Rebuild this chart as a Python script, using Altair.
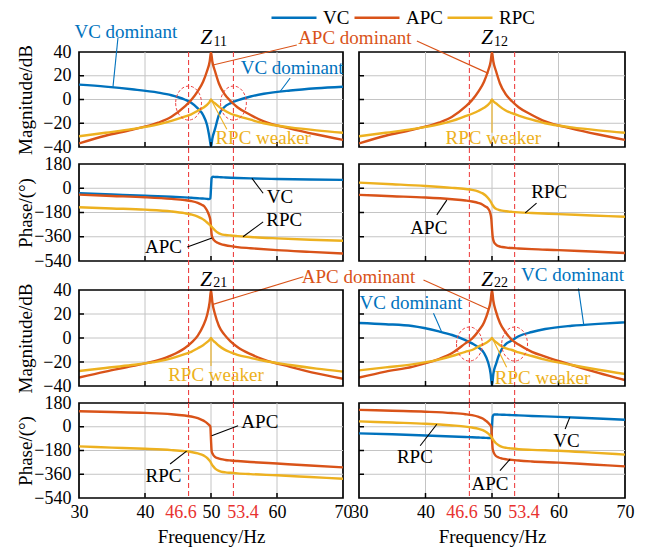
import altair as alt
import pandas as pd

FONT = "Liberation Serif"
SERIES = ["VC", "APC", "RPC"]
COLORS = ["#0072BD", "#D95319", "#EDB120"]
BLUE, ORANGE, YELLOW, BLACK = COLORS[0], COLORS[1], COLORS[2], "#000000"
RED = "#EE4444"
GRID = "#c4c4c4"

X_LABELS = [30, 40, 46.6, 50, 53.4, 60, 70]
MARK_FREQS = [46.6, 53.4]
MAG_TICKS = [-40, -20, 0, 20, 40]
PH_TICKS = [-540, -360, -180, 0, 180]
INNER_X = [40, 50, 60]
INNER_MAG = [-20, 0, 20]
INNER_PH = [-360, -180, 0]

# ---------------- magnitude data (dB) ----------------
FREQ_MAG = [30, 34, 38, 42, 44, 46, 47, 48, 48.8, 49.4, 49.8, 50, 50.2, 50.6, 51.2, 52, 53, 54, 56, 58, 62, 66, 70]
Z11_VC = [12.5, 10.8, 8.6, 5.8, 3.6, 0, -2.8, -7.5, -13, -21.5, -33, -40, -33, -25, -13, -6.5, -3, -0.8, 2.5, 4.8, 7.6, 9.5, 10.8]
Z11_APC = [-37, -30.5, -25.5, -19.5, -14.5, -6, -0.5, 7, 15, 24, 32, 40, 32, 24, 13.5, 5, -1.5, -6.5, -13, -18.5, -24.5, -29.5, -34]
Z11_RPC = [-31, -28, -25, -21, -18, -14.5, -12.5, -9.5, -7, -4.5, -2, 0, -1.5, -3.2, -6, -9, -12, -13.8, -17, -20, -23.5, -26, -28]
Z12_APC = [-37, -30.5, -25.5, -19.5, -14.5, -6, -0.5, 7, 15, 24, 32, 40, 32, 24, 13.5, 5, -1.5, -6.5, -13, -18.5, -24.5, -29.5, -34]
Z12_RPC = [-31, -28, -25, -21, -18, -14, -12, -9.5, -7, -4.5, -2, 0, -1.5, -3.2, -6, -9, -11.5, -13.5, -17, -20, -23.5, -26, -28]
Z21_APC = [-33, -28, -23.5, -18.5, -14.5, -8.5, -4, 2, 10, 19, 30, 40, 30, 20, 10, 3, -3, -7.5, -13.5, -18, -24, -29.5, -34]
Z21_RPC = [-27.5, -25, -22.5, -19.5, -17, -13.5, -11.5, -8.5, -6, -3.5, -1.5, 0, -1.5, -3.5, -6.5, -9.5, -12, -14, -16.5, -19, -22.5, -25.5, -28]
Z22_VC = [12.5, 11.5, 10, 5.5, 2.5, -1.8, -4.5, -8, -12.5, -20, -30, -40, -30, -21.7, -12, -5.5, -2, 1.5, 5, 7.5, 10.2, 11.8, 13]
Z22_APC = [-33, -28, -24, -17.5, -12.5, -4.5, -0.5, 6, 13, 22, 31, 40, 31, 22, 12.5, 5, -1.5, -5.5, -11.5, -15.5, -22.5, -29, -35]
Z22_RPC = [-27, -24.5, -22, -18, -15, -11.5, -10, -7, -5, -3, -1.2, 0, -1.5, -3.5, -6, -8.5, -10, -12, -15, -18, -22.5, -26.5, -30]

# ---------------- phase data (deg) ----------------
FREQ_PH = [30, 35, 40, 44, 46, 47, 48, 48.6, 49, 49.4, 49.7, 49.9, 50, 50.1, 50.3, 50.6, 51, 51.5, 52.2, 53, 54, 56, 60, 65, 70]
Z11_VC_PH = [-37, -46, -55, -63, -68, -71, -74, -76, -77, -79, -81, -75, 0, 75, 85, 84, 83, 82, 80, 78, 76, 73, 69, 65, 62]
Z11_APC_PH = [-47, -57, -67, -79, -88, -95, -108, -122, -135, -165, -200, -235, -290, -345, -375, -392, -405, -415, -423, -430, -437, -445, -459, -472, -484]
Z11_RPC_PH = [-141, -150, -159, -172, -185, -195, -210, -225, -238, -254, -267, -275, -280, -286, -297, -312, -328, -340, -347, -351, -355, -362, -372, -382, -390]
Z12_APC_PH = [-49, -59, -69, -82, -91, -98, -110, -122, -135, -150, -178, -230, -300, -360, -400, -418, -430, -436, -441, -444, -447, -452, -459, -470, -481]
Z12_RPC_PH = [42, 30, 17, 3, -6, -12, -25, -38, -52, -72, -92, -108, -118, -126, -140, -152, -160, -166, -171, -175, -179, -184, -192, -202, -212]
Z21_APC_PH = [118, 112, 105, 95, 85, 78, 65, 52, 42, 28, 14, 2, -100, -185, -210, -228, -238, -246, -252, -256, -260, -267, -279, -294, -308]
Z21_RPC_PH = [-149, -158, -167, -177, -185, -191, -202, -212, -221, -236, -252, -265, -274, -283, -298, -315, -330, -340, -346, -349, -353, -359, -368, -381, -394]
Z22_VC_PH = [-50, -57, -66, -74, -78, -80, -82, -83, -84, -85, -86, -78, 0, 78, 93, 93, 92, 91, 90, 88, 86, 82, 75, 64, 53]
Z22_APC_PH = [128, 121, 114, 104, 95, 88, 75, 62, 48, 32, 15, -3, -90, -168, -200, -222, -233, -241, -247, -251, -256, -263, -272, -286, -300]
Z22_RPC_PH = [41, 32, 23, 10, 1, -6, -16, -26, -36, -50, -65, -77, -85, -93, -108, -125, -140, -152, -160, -165, -170, -175, -182, -196, -211]

# panel geometry (plot areas); row 3 gets an empty strip on top for the wider gap
W = [264, 266]
H = [95, 97, 96, 95]
TOP_STRIP = [0, 0, 12, 0]
ROW_SPACING = 17

ELLIPSE = "M -0.76 0 A 0.76 1 0 1 0 0.76 0 A 0.76 1 0 1 0 -0.76 0 Z"

LEGEND = alt.Legend(
    orient="none", legendX=191, legendY=-44, direction="horizontal", title=None,
    symbolType="stroke", symbolSize=2025, symbolStrokeWidth=2.5, clipHeight=19,
    labelFont=FONT, labelFontSize=19, labelOffset=5, columnPadding=3,
)


def panel(row, col, freq, series, texts, leaders, title, ellipses=()):
    mag = row in (0, 2)
    strip = TOP_STRIP[row]
    w = W[col]
    h = H[row] + strip
    lo, hi = (-40, 40) if mag else (-540, 180)
    top_val = hi + strip * (hi - lo) / H[row]
    xs = alt.Scale(domain=[30, 70], nice=False, zero=False)
    ys = alt.Scale(domain=[lo, top_val], nice=False, zero=False)
    yvals = MAG_TICKS if mag else PH_TICKS
    inner_y = INNER_MAG if mag else INNER_PH

    if row == 3:
        xaxis = alt.Axis(values=X_LABELS, format=".1~f", title="Frequency/Hz",
                         labelFlush=False, labelOverlap=False, labelPadding=5,
                         labelColor={"condition": {"test": "datum.value == 46.6 || datum.value == 53.4",
                                                   "value": "#E8322F"}, "value": "black"},
                         labelOffset={"condition": [{"test": "datum.value == 46.6", "value": -8},
                                                    {"test": "datum.value == 53.4", "value": 9}],
                                      "value": 0},
                         titlePadding=6)
    else:
        xaxis = alt.Axis(values=X_LABELS, labels=False, title=None)
    if col == 0:
        yaxis = alt.Axis(values=yvals, format="d", labelPadding=8,
                         title="Magnitude/dB" if mag else "Phase/(°)",
                         titleX=-54, titleY=strip + H[row] / 2, titleBaseline="middle", titleAngle=270)
    else:
        yaxis = alt.Axis(values=yvals, labels=False, title=None)

    def X(field):
        return alt.X(field, type="quantitative", scale=xs, axis=xaxis)

    def Y(field):
        return alt.Y(field, type="quantitative", scale=ys, axis=yaxis)

    # grid lines
    grid_v = alt.Chart(pd.DataFrame({"f": INNER_X})).mark_rule(stroke=GRID, strokeWidth=1).encode(
        x=X("f"), y=alt.value(strip), y2=alt.value(h))
    grid_h = alt.Chart(pd.DataFrame({"v": inner_y})).mark_rule(stroke=GRID, strokeWidth=1).encode(
        y=Y("v"), x=alt.value(0), x2=alt.value(w))

    gap_below = ROW_SPACING if row < 3 else 0
    dash = alt.Chart(pd.DataFrame({"f": MARK_FREQS})).mark_rule(
        stroke=RED, strokeDash=[5, 3], strokeWidth=1.1, clip=False
    ).encode(x=X("f"), y=alt.value(0), y2=alt.value(h + gap_below))

    recs = [{"f": f, "v": v, "s": name} for name, vals in series for f, v in zip(freq, vals)]
    lines = alt.Chart(pd.DataFrame(recs)).mark_line(
        clip=True, strokeWidth=2.4, interpolate="monotone"
    ).encode(
        x=X("f"), y=Y("v"),
        color=alt.Color("s:N", scale=alt.Scale(domain=SERIES, range=COLORS), legend=LEGEND),
    )

    tick_x = alt.Chart(pd.DataFrame({"f": INNER_X})).mark_rule(stroke="black", strokeWidth=1.5).encode(
        x=X("f"), y=alt.value(h), y2=alt.value(h - 5))
    tick_y = alt.Chart(pd.DataFrame({"v": inner_y})).mark_rule(stroke="black", strokeWidth=1.5).encode(
        y=Y("v"), x=alt.value(0), x2=alt.value(5))

    lead = alt.Chart(pd.DataFrame(leaders, columns=["f", "v", "f2", "v2", "c"])).mark_rule(
        strokeWidth=1.1, clip=False
    ).encode(
        x=X("f"), y=Y("v"), x2="f2:Q", y2="v2:Q", stroke=alt.Stroke("c:N", scale=None),
    )
    txt = alt.Chart(pd.DataFrame(texts, columns=["f", "v", "t", "c"])).mark_text(
        font=FONT, fontSize=19, clip=False
    ).encode(
        x=X("f"), y=Y("v"), text="t:N", fill=alt.Fill("c:N", scale=None),
    )
    layers = [grid_v, grid_h, dash, lines, tick_x, tick_y, lead, txt]

    if title:
        zx, zy, sub, sx, sy = title
        layers.append(alt.Chart(pd.DataFrame({"f": [zx], "v": [zy], "t": ["Z"]})).mark_text(
            font=FONT, fontSize=21, fontStyle="italic", clip=False, color="black"
        ).encode(x=X("f"), y=Y("v"), text="t:N"))
        layers.append(alt.Chart(pd.DataFrame({"f": [sx], "v": [sy], "t": [sub]})).mark_text(
            font=FONT, fontSize=14, clip=False, color="black"
        ).encode(x=X("f"), y=Y("v"), text="t:N"))

    if ellipses:
        layers.append(alt.Chart(pd.DataFrame(ellipses, columns=["f", "v"])).mark_point(
            shape=ELLIPSE, size=1156, filled=False, stroke=RED, strokeDash=[3, 2],
            strokeWidth=1, opacity=1, clip=False
        ).encode(x=X("f"), y=Y("v")))

    props = dict(width=w, height=h)
    if strip:
        layers.append(alt.Chart(pd.DataFrame({"a": [0]})).mark_rect(
            fillOpacity=0, stroke="black", strokeWidth=1.7
        ).encode(x=alt.value(0), x2=alt.value(w), y=alt.value(strip), y2=alt.value(h)))
        props["view"] = alt.ViewBackground(stroke="transparent")
    return alt.layer(*layers).properties(**props)


p11m = panel(0, 0, FREQ_MAG, [("VC", Z11_VC), ("APC", Z11_APC), ("RPC", Z11_RPC)],
             [(37.1, 56.8, "VC dominant", BLUE), (71.8, 51.8, "APC dominant", ORANGE),
              (62.3, 26.5, "VC dominant", BLUE), (57.9, -32.4, "RPC weaker", YELLOW)],
             [(35.9, 51.8, 35.15, 10.6, BLUE), (63.0, 45.9, 50.3, 29, ORANGE),
              (62.0, 18.1, 60.45, 6.5, BLUE), (50.1, -1, 52.4, -25, YELLOW)],
             (49.3, 51.8, "11", 51.4, 48.4), [(46.6, -3), (53.4, -3)])
p12m = panel(0, 1, FREQ_MAG, [("APC", Z12_APC), ("RPC", Z12_RPC)],
             [(50.2, -32.4, "RPC weaker", YELLOW)],
             [(38.7, 49.3, 49.45, 22, ORANGE), (50, 0, 50, -28, YELLOW)],
             (49.25, 51.8, "12", 51.35, 48.4))
p11p = panel(1, 0, FREQ_PH, [("VC", Z11_VC_PH), ("APC", Z11_APC_PH), ("RPC", Z11_RPC_PH)],
             [(60.45, -65, "VC", BLACK), (61.1, -235, "RPC", BLACK), (42.8, -434, "APC", BLACK)],
             [(56.2, 74, 57.9, -37, BLACK), (54.85, -360, 57.9, -250, BLACK), (46.4, -436, 50.15, -369, BLACK)],
             None)
p12p = panel(1, 1, FREQ_PH, [("APC", Z12_APC_PH), ("RPC", Z12_RPC_PH)],
             [(58.6, -25, "RPC", BLACK), (40.5, -295, "APC", BLACK)],
             [(55.0, -183, 56.7, -110, BLACK), (41.7, -198, 43.2, -88, BLACK)],
             None)
p21m = panel(2, 0, FREQ_MAG, [("APC", Z21_APC), ("RPC", Z21_RPC)],
             [(72.35, 50.8, "APC dominant", ORANGE), (50.75, -30.8, "RPC weaker", YELLOW)],
             [(64.0, 51.1, 50.3, 28, ORANGE), (50, 0, 50, -23.3, YELLOW)],
             (49.25, 48.3, "21", 51.4, 45.8))
p22m = panel(2, 1, FREQ_MAG, [("VC", Z22_VC), ("APC", Z22_APC), ("RPC", Z22_RPC)],
             [(62.1, 52.5, "VC dominant", BLUE), (37.8, 28.9, "VC dominant", BLUE),
              (57.6, -33.6, "RPC weaker", YELLOW)],
             [(39.7, 48.3, 49.5, 24, ORANGE), (63.0, 41.4, 63.8, 11, BLUE),
              (41.2, 20.6, 42.4, 5.5, BLUE), (50.1, -0.8, 52.2, -24.4, YELLOW)],
             (49.25, 48.3, "22", 51.35, 45.8), [(46.6, -5), (53.4, -5)])
p21p = panel(3, 0, FREQ_PH, [("APC", Z21_APC_PH), ("RPC", Z21_RPC_PH)],
             [(57.4, 34, "APC", BLACK), (42.8, -371, "RPC", BLACK)],
             [(54.1, 8, 50.1, -68, BLACK), (43.8, -282, 46.3, -185, BLACK)],
             None)
p22p = panel(3, 1, FREQ_PH, [("VC", Z22_VC_PH), ("APC", Z22_APC_PH), ("RPC", Z22_RPC_PH)],
             [(38.4, -232, "RPC", BLACK), (49.7, -434, "APC", BLACK), (61.2, -106, "VC", BLACK)],
             [(39.2, -144, 41.7, 19, BLACK), (51.2, -333, 52.7, -247, BLACK), (61.0, -17, 61.7, 71, BLACK)],
             None)

chart = alt.concat(
    p11m, p12m, p11p, p12p, p21m, p22m, p21p, p22p,
    columns=2, spacing={"row": ROW_SPACING, "column": 16}, bounds="flush",
).properties(
    padding={"left": 7, "top": 0, "right": 0, "bottom": 0}
).configure_view(
    stroke="black", strokeWidth=1.7
).configure_axis(
    grid=False, domain=False, ticks=False,
    labelFont=FONT, labelFontSize=18, labelColor="black",
    titleFont=FONT, titleFontSize=19, titleFontWeight="normal", titleColor="black",
).configure_text(font=FONT)

chart.save("out.html", embed_options={"renderer": "svg", "actions": False})
